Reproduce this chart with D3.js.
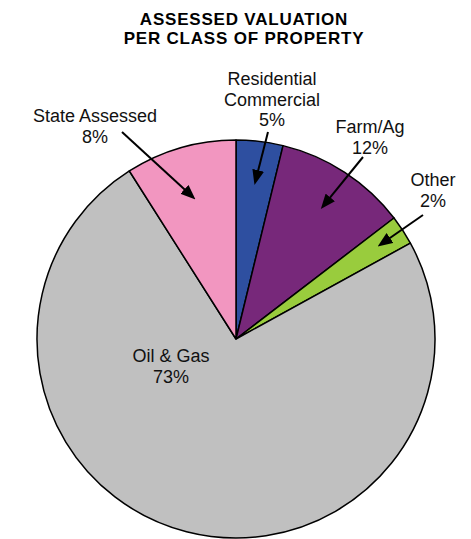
<!DOCTYPE html>
<html>
<head>
<meta charset="utf-8">
<script src="https://cdn.jsdelivr.net/npm/d3@7"></script>
<style>
  body { margin: 0; background: #fff; }
  text { font-family: "Liberation Sans", Arial, sans-serif; }
</style>
</head>
<body>
<div id="chart"></div>
<script>
const width = 471
const height = 539

// data (clockwise from 12 o'clock)
const categories = ["Residential Commercial", "Farm/Ag", "Other", "Oil & Gas", "State Assessed"]
const labelLines = [["Residential", "Commercial"], ["Farm/Ag"], ["Other"], ["Oil & Gas"], ["State Assessed"]]
const shares = [3.8, 10.8, 2.4, 74.0, 9.0]
const pctLabels = ["5%", "12%", "2%", "73%", "8%"]
const colors = ["#2E4FA0", "#77287A", "#99CC3D", "#C0C0C0", "#F296C0"]

// annotation layout, relative to pie centre: label anchor, arrow tail, tip radius factor
const labelPos = [[36, -254], [134, -206], [197, -153], [-65, 23], [-141, -217]]
const arrowTail = [[32, -207], [127, -182], [187, -124], null, [-114, -207]]
const tipFactor = [0.78, 0.78, 0.85, null, 0.73]

const cx = 236, cy = 339, radius = 199
const lineH = 20.5

const data = categories.map((c, i) => ({name: c, value: shares[i], i: i}))

const svg = d3.select("#chart").append("svg")
  .attr("width", width)
  .attr("height", height)

svg.append("defs").append("marker")
  .attr("id", "head")
  .attr("markerUnits", "userSpaceOnUse")
  .attr("viewBox", "0 -6 15 12")
  .attr("markerWidth", 15)
  .attr("markerHeight", 12)
  .attr("refX", 4)
  .attr("refY", 0)
  .attr("orient", "auto")
  .append("path")
  .attr("d", "M0,-6L15,0L0,6Z")
  .attr("fill", "#000")

// title
svg.append("text")
  .attr("text-anchor", "middle")
  .attr("font-weight", "bold")
  .attr("font-size", 17)
  .attr("letter-spacing", 0.8)
  .selectAll("tspan")
  .data(["ASSESSED VALUATION", "PER CLASS OF PROPERTY"])
  .enter().append("tspan")
  .attr("x", 244)
  .attr("y", (d, i) => 25 + i * 18.5)
  .text(d => d)

const pie = d3.pie().sort(null).value(d => d.value)
const arc = d3.arc().innerRadius(0).outerRadius(radius)
const arcs = pie(data)

const g = svg.append("g").attr("transform", `translate(${cx},${cy})`)

g.selectAll("path.slice")
  .data(arcs)
  .enter().append("path")
  .attr("class", "slice")
  .attr("d", arc)
  .attr("fill", d => colors[d.data.i])
  .attr("stroke", "#000")
  .attr("stroke-width", 1.5)
  .attr("stroke-linejoin", "round")

// arrows
arcs.forEach(d => {
  const i = d.data.i
  if (!arrowTail[i]) return
  const r = radius * tipFactor[i]
  const tip = d3.arc().innerRadius(r).outerRadius(r).centroid(d)
  const tail = arrowTail[i]
  const dx = tip[0] - tail[0], dy = tip[1] - tail[1]
  const len = Math.sqrt(dx * dx + dy * dy)
  const end = [tip[0] - dx / len * 11, tip[1] - dy / len * 11]
  g.append("line")
    .attr("x1", tail[0]).attr("y1", tail[1])
    .attr("x2", end[0]).attr("y2", end[1])
    .attr("stroke", "#000")
    .attr("stroke-width", 2)
    .attr("marker-end", "url(#head)")
})

// labels
arcs.forEach(d => {
  const i = d.data.i
  const lines = labelLines[i].concat(pctLabels[i])
  g.append("text")
    .attr("text-anchor", "middle")
    .attr("font-size", 18)
    .attr("fill", "#111")
    .selectAll("tspan")
    .data(lines)
    .enter().append("tspan")
    .attr("x", labelPos[i][0])
    .attr("y", (t, k) => labelPos[i][1] + k * lineH)
    .text(t => t)
})
</script>
</body>
</html>
